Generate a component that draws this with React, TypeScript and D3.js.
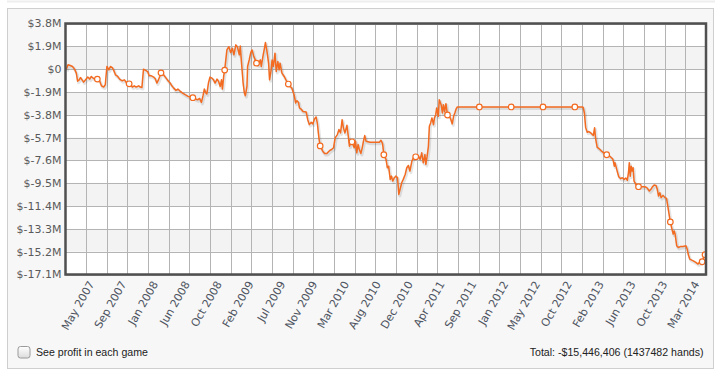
import React from "react";
import * as d3 from "d3";

// x positions are in "label units": 0 = May 2007 tick, 19 = Mar 2014 tick
const xTickLabels = [
  "May 2007", "Sep 2007", "Jan 2008", "Jun 2008", "Oct 2008", "Feb 2009", "Jul 2009",
  "Nov 2009", "Mar 2010", "Aug 2010", "Dec 2010", "Apr 2011", "Sep 2011", "Jan 2012",
  "May 2012", "Oct 2012", "Feb 2013", "Jun 2013", "Oct 2013", "Mar 2014",
];

const yTicks = [3.8, 1.9, 0, -1.9, -3.8, -5.7, -7.6, -9.5, -11.4, -13.3, -15.2, -17.1];

// cumulative profit in $M: [position, value]
const profit: [number, number][] = [
  [-0.98, -0.06], [-0.92, 0.36], [-0.85, 0.3], [-0.78, 0.22], [-0.72, 0.02], [-0.66, -0.33],
  [-0.62, -1.0], [-0.57, -0.89], [-0.53, -0.7], [-0.48, -0.89], [-0.43, -1.08], [-0.37, -0.89],
  [-0.3, -0.66], [-0.24, -0.83], [-0.19, -0.61], [-0.12, -0.78], [-0.06, -0.83], [0, -0.83],
  [0.07, -0.97], [0.13, -1.39], [0.2, -1.49], [0.25, -1.3], [0.3, 0.22], [0.36, -0.06],
  [0.41, 0.22], [0.47, 0.13], [0.51, -0.06], [0.57, -0.47], [0.64, -0.61], [0.7, -0.83],
  [0.78, -0.97], [0.85, -0.89], [0.91, -1.11], [1.0, -1.22], [1.04, -1.3], [1.1, -1.49],
  [1.16, -1.39], [1.22, -1.49], [1.3, -1.39], [1.35, -1.49], [1.4, -1.53], [1.45, 0.0],
  [1.53, -0.12], [1.58, -0.2], [1.63, -0.56], [1.7, -0.56], [1.77, -0.66], [1.82, -0.8],
  [1.87, -1.16], [1.92, -0.89], [1.96, -0.61], [2.0, -0.31], [2.08, -0.47], [2.16, -0.75],
  [2.24, -1.03], [2.29, -1.16], [2.34, -1.39], [2.4, -1.58], [2.47, -1.77], [2.53, -1.66],
  [2.61, -1.86], [2.68, -1.99], [2.76, -2.13], [2.85, -2.27], [2.92, -2.32], [3.0, -2.38],
  [3.08, -2.49], [3.15, -2.55], [3.21, -2.44], [3.27, -2.77], [3.32, -2.21], [3.36, -1.66],
  [3.41, -1.99], [3.44, -2.07], [3.49, -1.16], [3.54, -0.66], [3.6, -0.75], [3.65, -0.89],
  [3.7, -1.16], [3.76, -0.83], [3.81, -1.03], [3.86, -1.44], [3.9, -0.89], [3.93, -1.66],
  [3.97, -0.56], [4.0, -0.08], [4.07, 1.6], [4.13, 1.87], [4.19, 1.38], [4.24, 1.74],
  [4.29, 1.19], [4.35, 2.02], [4.4, 1.85], [4.46, 1.19], [4.49, 1.93], [4.53, 0.5],
  [4.58, -1.16], [4.62, -1.99], [4.65, -2.21], [4.7, -1.44], [4.72, 0.22], [4.77, 0.77],
  [4.82, 1.38], [4.86, 1.6], [4.91, 1.1], [4.96, 0.77], [5.0, 0.5], [5.06, 0.36],
  [5.12, 0.77], [5.15, 0.22], [5.2, 1.05], [5.24, 1.6], [5.28, 2.21], [5.33, 1.46],
  [5.38, 0.5], [5.41, -0.89], [5.46, -0.06], [5.49, 0.77], [5.53, 0.22], [5.58, 1.33],
  [5.62, -0.2], [5.67, 0.63], [5.71, -0.06], [5.74, 0.5], [5.8, -0.33], [5.87, -0.61],
  [5.95, -1.03], [6.0, -1.24], [6.07, -1.47], [6.11, -1.58], [6.18, -2.13], [6.23, -2.82],
  [6.27, -2.63], [6.32, -2.77], [6.35, -3.23], [6.4, -3.32], [6.46, -3.52], [6.56, -3.57],
  [6.61, -4.21], [6.66, -4.62], [6.72, -4.43], [6.77, -4.56], [6.82, -4.15], [6.87, -3.98],
  [6.91, -4.48], [6.96, -5.72], [7.0, -6.39], [7.08, -6.83], [7.14, -7.02], [7.21, -7.02],
  [7.26, -6.88], [7.31, -6.75], [7.36, -6.69], [7.42, -6.55], [7.47, -5.72], [7.54, -5.45],
  [7.59, -5.03], [7.64, -5.31], [7.69, -4.21], [7.73, -4.89], [7.78, -5.31], [7.84, -4.68],
  [7.89, -5.72], [7.92, -6.42], [7.96, -6.14], [8.0, -6.05], [8.07, -6.55], [8.11, -6.0],
  [8.15, -6.97], [8.19, -6.28], [8.23, -6.69], [8.28, -7.02], [8.32, -6.55], [8.36, -6.0],
  [8.4, -5.53], [8.44, -6.0], [8.57, -6.09], [8.73, -6.09], [8.86, -6.09], [8.91, -5.92],
  [8.96, -6.2], [9.0, -7.13], [9.07, -7.52], [9.11, -8.21], [9.15, -8.08], [9.2, -9.18],
  [9.24, -8.91], [9.28, -9.32], [9.33, -9.04], [9.38, -8.91], [9.43, -9.04], [9.47, -10.43],
  [9.51, -10.01], [9.56, -9.46], [9.61, -9.18], [9.67, -8.77], [9.72, -8.21], [9.77, -8.02],
  [9.82, -8.49], [9.88, -7.66], [9.93, -7.38], [10.0, -7.3], [10.08, -7.19], [10.14, -7.52],
  [10.19, -6.97], [10.24, -7.8], [10.29, -7.11], [10.32, -7.94], [10.36, -7.25], [10.4, -6.42],
  [10.43, -4.76], [10.47, -4.48], [10.51, -4.06], [10.56, -4.62], [10.59, -4.06], [10.63, -3.79],
  [10.66, -3.23], [10.71, -3.93], [10.74, -2.55], [10.8, -2.96], [10.84, -3.65], [10.87, -2.96],
  [10.91, -3.54], [10.95, -2.88], [11.0, -3.82], [11.06, -3.93], [11.1, -4.15], [11.15, -4.56],
  [11.19, -3.93], [11.23, -3.65], [11.27, -3.32], [11.31, -3.15], [12.0, -3.15], [13.0, -3.15],
  [14.0, -3.15], [15.0, -3.15], [15.23, -3.15], [15.26, -3.17], [15.3, -3.65], [15.34, -4.87],
  [15.39, -5.26], [15.44, -5.2], [15.5, -5.31], [15.55, -5.45], [15.58, -5.53], [15.62, -4.89],
  [15.65, -5.72], [15.7, -6.49], [15.79, -6.69], [15.84, -6.83], [15.89, -6.94], [15.94, -7.02],
  [16.0, -7.13], [16.1, -7.25], [16.19, -7.48], [16.21, -7.66], [16.24, -8.08], [16.26, -7.8],
  [16.29, -8.08], [16.33, -8.49], [16.38, -8.96], [16.44, -9.12], [16.49, -9.04], [16.55, -9.18],
  [16.6, -9.06], [16.65, -9.26], [16.69, -8.49], [16.71, -7.8], [16.74, -8.91], [16.77, -8.08],
  [16.8, -8.49], [16.83, -8.21], [16.86, -9.32], [16.89, -9.46], [16.94, -9.68], [17.0, -9.79],
  [17.1, -9.79], [17.2, -9.79], [17.26, -9.87], [17.34, -10.15], [17.39, -10.01], [17.44, -9.79],
  [17.49, -9.65], [17.55, -9.68], [17.59, -10.01], [17.63, -10.57], [17.67, -10.29], [17.71, -10.7],
  [17.77, -10.51], [17.83, -10.7], [17.88, -10.76], [17.92, -11.4], [17.96, -12.08], [18.0, -12.72],
  [18.04, -13.19], [18.09, -13.74], [18.12, -13.47], [18.15, -13.74], [18.2, -14.71], [18.25, -14.85],
  [18.33, -14.76], [18.4, -14.76], [18.49, -14.71], [18.53, -14.99], [18.56, -15.4], [18.61, -15.82],
  [18.72, -15.96], [18.8, -16.09], [18.87, -16.23], [18.93, -16.04], [18.96, -16.11], [19.0, -16.04],
  [19.03, -15.86], [19.06, -15.4], [19.09, -15.45],
];

const markerPositions = [0, 1, 2, 3, 4, 5, 6, 7, 8, 9, 10, 11, 12, 13, 14, 15, 16, 17, 18, 19, 19.09];

const footerLeft = "See profit in each game";
const footerRight = "Total: -$15,446,406 (1437482 hands)";

const W = 726;
const H = 377;
const plot = { left: 65.5, right: 706, top: 23.5, bottom: 274.5 };
const LINE = "#f36b21";

export default function App() {
  const x = d3.scaleLinear().domain([-1, 19.12]).range([plot.left, plot.right]);
  const y = d3.scaleLinear().domain([-17.1, 3.8]).range([plot.bottom, plot.top]);
  const gridX = d3.scaleLinear().domain([0, 31]).range([plot.left, plot.right]);

  const line = d3
    .line<[number, number]>()
    .x((d) => x(d[0]))
    .y((d) => y(d[1]));
  const pathD = line(profit) || "";

  const markers = markerPositions.map((p) =>
    profit.reduce((best, d) => (Math.abs(d[0] - p) < Math.abs(best[0] - p) ? d : best), profit[0])
  );

  const fmt = (v: number) => (v === 0 ? "$0" : `$${v.toFixed(1)}M`);
  const bands = d3.range(yTicks.length - 1).filter((i) => i % 2 === 1);

  return (
    <svg
      width={W}
      height={H}
      style={{ position: "absolute", left: 0, top: 0, background: "#fff" }}
      fontFamily="'DejaVu Sans', Verdana, sans-serif"
    >
      <defs>
        <clipPath id="plotclip">
          <rect x={plot.left} y={plot.top} width={plot.right - plot.left} height={plot.bottom - plot.top} />
        </clipPath>
        <linearGradient id="cb" x1="0" y1="0" x2="0" y2="1">
          <stop offset="0" stopColor="#ffffff" />
          <stop offset="1" stopColor="#dcdcdc" />
        </linearGradient>
      </defs>
      <rect x={7} y={0.5} width={708} height={2} fill="#eeeeee" />
      <rect x={7.5} y={8.5} width={706} height={360} fill="#f7f7f7" stroke="#cfcfcf" strokeWidth={1} />
      <rect x={plot.left} y={plot.top} width={plot.right - plot.left} height={plot.bottom - plot.top} fill="#ffffff" />
      {bands.map((i) => (
        <rect
          key={`b${i}`}
          x={plot.left}
          y={y(yTicks[i])}
          width={plot.right - plot.left}
          height={y(yTicks[i + 1]) - y(yTicks[i])}
          fill="#f3f3f3"
        />
      ))}
      {d3.range(1, 31).map((i) => (
        <line
          key={`gx${i}`}
          x1={Math.round(gridX(i)) + 0.5}
          x2={Math.round(gridX(i)) + 0.5}
          y1={plot.top}
          y2={plot.bottom}
          stroke="#b4b4b4"
          strokeWidth={1}
        />
      ))}
      {yTicks.map((t) => (
        <line
          key={`gy${t}`}
          x1={plot.left}
          x2={plot.right}
          y1={Math.round(y(t)) + 0.5}
          y2={Math.round(y(t)) + 0.5}
          stroke="#b4b4b4"
          strokeWidth={1}
        />
      ))}
      <g clipPath="url(#plotclip)">
        <path d={pathD} fill="none" stroke="rgba(0,0,0,0.10)" strokeWidth={3} transform="translate(1,1.5)" strokeLinejoin="round" />
        <path d={pathD} fill="none" stroke={LINE} strokeWidth={1.5} strokeLinejoin="round" />
        {markers.map((d, i) => (
          <circle key={`m${i}`} cx={x(d[0])} cy={y(d[1])} r={2.8} fill="#ffffff" stroke={LINE} strokeWidth={1.2} />
        ))}
      </g>
      <rect
        x={plot.left}
        y={plot.top}
        width={plot.right - plot.left}
        height={plot.bottom - plot.top}
        fill="none"
        stroke="#505050"
        strokeWidth={2.5}
      />
      {yTicks.map((t) => (
        <text key={`yl${t}`} x={61.5} y={y(t)} dy="0.36em" textAnchor="end" fontSize={11} fill="#5a5a5a">
          {fmt(t)}
        </text>
      ))}
      {xTickLabels.map((lab, i) => (
        <text
          key={`xl${i}`}
          transform={`translate(${x(i) - 2.5},${plot.bottom + 9.5}) rotate(-60)`}
          textAnchor="end"
          fontSize={11}
          fill="#4d5360"
        >
          {lab}
        </text>
      ))}
      <rect x={18} y={346.5} width={12} height={11.5} rx={2.5} fill="url(#cb)" stroke="#9a9a9a" strokeWidth={1} />
      <text x={36} y={355.5} fontSize={10.6} fontFamily="'Liberation Sans', Arial, sans-serif" fill="#222">
        {footerLeft}
      </text>
      <text x={703.5} y={355.5} fontSize={10.6} textAnchor="end" fontFamily="'Liberation Sans', Arial, sans-serif" fill="#222">
        {footerRight}
      </text>
    </svg>
  );
}
